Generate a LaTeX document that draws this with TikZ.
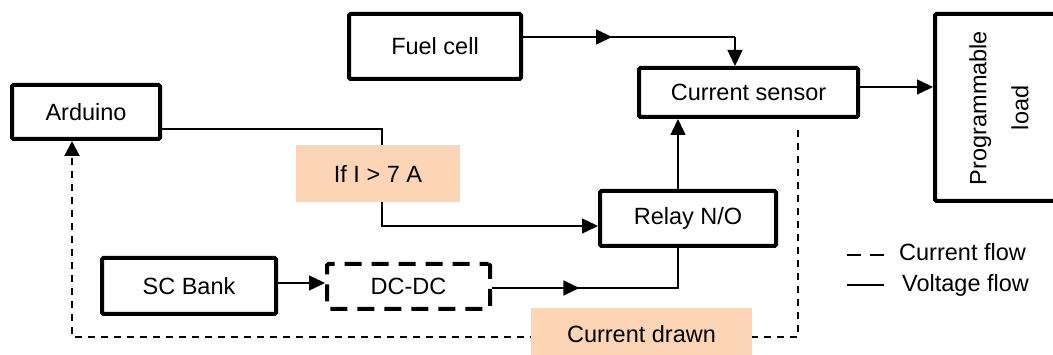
\documentclass[tikz,border=0pt]{standalone}
\usepackage{fontspec}
\setmainfont{Liberation Sans}
\usetikzlibrary{arrows.meta,calc}
\definecolor{peach}{HTML}{FBD5B5}
\tikzset{
  blk/.style={draw, line width=4pt, rounded corners=1.5pt, inner sep=0pt},
  dblk/.style={draw, line width=4pt, dash pattern=on 17pt off 10pt, dash phase=8pt, rounded corners=1.5pt, inner sep=0pt},
  lbl/.style={fill=peach, inner sep=0pt},
  conn/.style={line width=1.5pt},
  arr/.style={conn, -{Triangle[length=16pt,width=15pt]}},
  cur/.style={line width=2pt, dash pattern=on 7pt off 6pt},
  curarr/.style={cur, -{Triangle[length=15pt,width=15pt]}},
}
\begin{document}
\begin{tikzpicture}[x=1pt,y=-1pt,font=\fontsize{23.5}{28}\selectfont]
\useasboundingbox (0,0) rectangle (1053,355);
% blocks
\node[blk, minimum width=172pt, minimum height=65pt] (fuel) at (435,46.5) {Fuel cell};
\node[blk, minimum width=148pt, minimum height=54pt] (arduino) at (86,112) {Arduino};
\node[blk, minimum width=219pt, minimum height=49pt] (sensor) at (748.5,92.5) {Current sensor};
\node[blk, minimum width=128pt, minimum height=187pt] (load) at (999,107.5) {};
\node[rotate=90, align=center, inner sep=0pt, font=\fontsize{23.5}{42}\selectfont] (loadtxt) at (999,108) {Programmable\\load};
\node[blk, minimum width=176pt, minimum height=55pt] (relay) at (688,218.5) {Relay N/O};
\node[blk, minimum width=174pt, minimum height=56pt] (sc) at (189,286) {SC Bank};
\node[dblk, minimum width=163pt, minimum height=45pt] (dcdc) at (408.5,286.5) {DC-DC};
\node[lbl, minimum width=164pt, minimum height=57pt] (ifbox) at (378,173.5) {If I > 7 A};
% fuel cell -> current sensor
\coordinate (f1) at ([yshift=9.5pt]fuel.east);
\coordinate (s2) at ([xshift=-13.5pt]sensor.north);
\draw[conn] (f1) -- (f1 -| s2);
\draw[arr] (f1) -- ($(f1)!0.42!(f1 -| s2)$);
\draw[arr] (f1 -| s2) -- (s2);
% current sensor -> load
\coordinate (s1) at ([yshift=5.5pt]sensor.east);
\draw[arr] (s1) -- (s1 -| load.west);
% relay -> current sensor
\coordinate (r1) at ([xshift=-10pt]relay.north);
\draw[arr] (r1) -- (r1 |- sensor.south);
% arduino -> relay (through the If box)
\coordinate (a1) at ([yshift=-17pt]arduino.east);
\coordinate (c1) at ([xshift=4pt]ifbox.north);
\coordinate (c2) at ([xshift=4pt]ifbox.south);
\coordinate (r2) at ([yshift=-7.5pt]relay.west);
\draw[conn] (a1) -- (a1 -| c1) -- (c1);
\draw[arr] (c2) -- (c2 |- r2) -- (r2);
% SC bank -> DC-DC
\coordinate (sc1) at ([yshift=3pt]sc.east);
\draw[arr] (sc1) -- (sc1 -| dcdc.west);
% DC-DC -> relay
\coordinate (d1) at ([yshift=-1.5pt]dcdc.east);
\coordinate (r3) at ([xshift=-10pt]relay.south);
\draw[conn] (d1) -- (d1 -| r3) -- (r3);
\draw[arr] (d1) -- ($(d1)!0.47!(d1 -| r3)$);
% current drawn (dashed)
\coordinate (k0) at ([xshift=49.5pt,yshift=-11pt]sensor.south);
\coordinate (k1) at (798,337);
\coordinate (ak) at ([xshift=-14pt]arduino.south);
\draw[curarr] (k0) -- (k1) -- (k1 -| ak) -- (ak);
\node[lbl, minimum width=221pt, minimum height=52pt] (drawn) at (641.5,334) {Current drawn};
% legend
\coordinate (l1) at (847,255);
\coordinate (l2) at (884,255);
\coordinate (l3) at (847,285);
\coordinate (l4) at (884,285);
\draw[line width=2pt, dash pattern=on 14pt off 9pt] (l1) -- (l2);
\draw[line width=2pt] (l3) -- (l4);
\node[anchor=base west, inner sep=0pt] (lg1) at (899,261) {Current flow};
\node[anchor=base west, inner sep=0pt] (lg2) at (902,292) {Voltage flow};
\end{tikzpicture}
\end{document}
